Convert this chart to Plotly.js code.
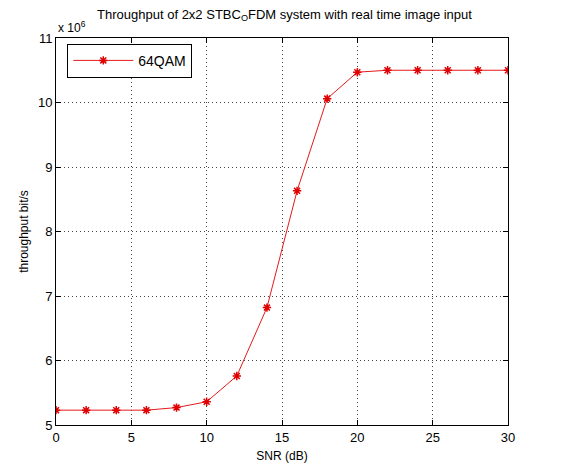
<!DOCTYPE html>
<html>
<head>
<script src="https://cdn.plot.ly/plotly-3.0.1.min.js"></script>
<style>html,body{margin:0;padding:0;background:#fff;}#chart{width:569px;height:468px;}</style>
</head>
<body>
<div id="chart"></div>
<script>
var snr = [0, 2, 4, 6, 8, 10, 12, 14, 16, 18, 20, 22, 24, 26, 28, 30];
var throughputMillions = [5.23, 5.23, 5.23, 5.23, 5.27, 5.36, 5.76, 6.82, 8.63, 10.06, 10.47, 10.5, 10.5, 10.5, 10.5, 10.5];
var seriesName = '64QAM';
var xTicks = [0, 5, 10, 15, 20, 25, 30];
var yTicks = [5, 6, 7, 8, 9, 10, 11];

var fontFam = 'Liberation Sans, Arial, sans-serif';
var trace = {
  x: snr, y: throughputMillions, name: seriesName, type: 'scatter', mode: 'lines+markers',
  line: {color: '#e41a1a', width: 1},
  marker: {symbol: 'asterisk-open', size: 7, color: '#e00000', line: {color: '#e00000', width: 1.5}}
};
var axisCommon = {
  showline: true, linecolor: '#000', linewidth: 1, mirror: 'ticks', ticks: 'inside', ticklen: 5,
  tickcolor: '#000', showgrid: true, gridcolor: '#444', griddash: '1px,3px', gridwidth: 1,
  zeroline: false, tickfont: {family: fontFam, size: 13, color: '#000'}
};
var layout = {
  width: 569, height: 468,
  margin: {l: 56, r: 61, t: 38, b: 43},
  paper_bgcolor: '#fff', plot_bgcolor: '#fff',
  font: {family: fontFam, color: '#000', size: 12},
  title: {text: 'Throughput of 2x2 STBC<sub>O</sub>FDM system with real time image input',
          font: {family: fontFam, size: 13, color: '#000'}, x: 0.5, xanchor: 'center', y: 0.97, yanchor: 'middle'},
  xaxis: Object.assign({}, axisCommon, {range: [0, 30], tickvals: xTicks, ticktext: xTicks.map(String),
          title: {text: 'SNR (dB)', font: {family: fontFam, size: 12, color: '#000'}, standoff: 8}}),
  yaxis: Object.assign({}, axisCommon, {range: [5, 11], tickvals: yTicks, ticktext: yTicks.map(String),
          title: {text: 'throughput bit/s', font: {family: fontFam, size: 12, color: '#000'}, standoff: 6}}),
  showlegend: true,
  legend: {x: 0.025, y: 0.985, xanchor: 'left', yanchor: 'top', bgcolor: '#fff', bordercolor: '#000', borderwidth: 1,
           itemwidth: 60, font: {family: fontFam, size: 14, color: '#000'}},
  annotations: [{text: 'x 10<sup>6</sup>', xref: 'paper', yref: 'paper', x: 0, y: 1, xanchor: 'left', yanchor: 'bottom',
                 showarrow: false, font: {family: fontFam, size: 12, color: '#000'}, yshift: 1}]
};
Plotly.newPlot('chart', [trace], layout, {displayModeBar: false, staticPlot: true});
</script>
</body>
</html>
